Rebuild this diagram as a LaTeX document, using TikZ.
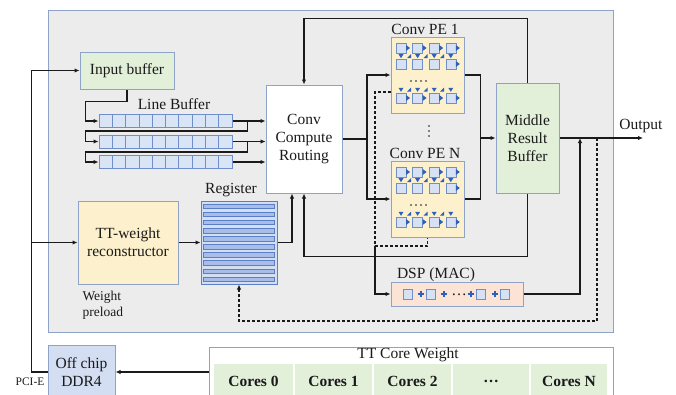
\documentclass[tikz,border=0pt]{standalone}
\usepackage{fontspec}
\setmainfont{Liberation Serif}
\usetikzlibrary{arrows.meta}
\definecolor{bgc}{HTML}{ECECEC}
\definecolor{edge}{HTML}{8FA3C8}
\definecolor{grn}{HTML}{E2EFD9}
\definecolor{ylw}{HTML}{FDF0CC}
\definecolor{lbl}{HTML}{D9E4F5}
\definecolor{lbedge}{HTML}{6F8FCA}
\definecolor{pch}{HTML}{FBE3D6}
\definecolor{regf}{HTML}{D3DEF3}
\definecolor{regb}{HTML}{A9BEE6}
\definecolor{regedge}{HTML}{5B7FC6}
\definecolor{dblue}{HTML}{2F5FB8}
\definecolor{sqf}{HTML}{D6E2F4}
\definecolor{ddrf}{HTML}{D3DEF2}
\definecolor{ln}{HTML}{1A1A1A}
\definecolor{txt}{HTML}{1A1A1A}

\newcommand\pegrid[2]{%
  \begin{scope}[shift={(#1,#2)}]
    \foreach \i in {0,1,2,3}{
      \pgfmathsetmacro\sx{5+16.6*\i}
      \filldraw[sqs] (\sx,6) rectangle ++(10,10);
      \filldraw[sqs] (\sx,22) rectangle ++(10,10);
      \filldraw[sqs] (\sx,56) rectangle ++(10,10);
      \fill[dblue] (\sx+10,8) -- (\sx+14,11) -- (\sx+10,14) -- cycle;
      \fill[dblue] (\sx+2.5,17.2) -- (\sx+7.5,17.2) -- (\sx+5,21.2) -- cycle;
      \fill[dblue] (\sx+2.5,50.8) -- (\sx+7.5,50.8) -- (\sx+5,54.8) -- cycle;
      \fill[dblue] (\sx+10,58) -- (\sx+14,61) -- (\sx+10,64) -- cycle;
    }
    \foreach \i in {0,1,2}{
      \pgfmathsetmacro\sx{5+16.6*\i}
      \fill[dblue] (\sx+15,17) -- (\sx+15,21) -- (\sx+11,21) -- cycle;
      \fill[dblue] (\sx+15,50.5) -- (\sx+15,54.5) -- (\sx+11,54.5) -- cycle;
    }
    \fill[dblue] (5+16.6*3+10,24) -- (5+16.6*3+14,27) -- (5+16.6*3+10,30) -- cycle;
    \foreach \d in {20,25,30,35}{ \fill[txt] (\d,44) circle (0.8); }
  \end{scope}}

\begin{document}
\begin{tikzpicture}[x=1pt,y=-1pt,
  font=\fontsize{15.5}{18}\selectfont, text=txt,
  box/.style={draw=edge, line width=1pt, inner sep=0pt, align=center},
  sqs/.style={draw=lbedge, fill=sqf, line width=0.6pt},
  conn/.style={draw=ln, line width=1.1pt},
  arr/.style={conn, -{Latex[length=5pt,width=4.5pt]}},
  dsh/.style={conn, dash pattern=on 3pt off 2pt},
  plus/.style={draw=dblue, line width=2pt},
  cell/.style={fill=grn, draw=white, line width=1.5pt, minimum height=37pt, inner sep=0pt, font=\fontsize{15.5}{18}\selectfont\bfseries}]
\useasboundingbox (0,0) rectangle (676,394);

% main chip area
\node[box, fill=bgc, minimum width=565pt, minimum height=322pt] (chip) at (330.5,171) {};

% blocks
\node[box, fill=grn, minimum width=94pt, minimum height=37pt] (inbuf) at (127,70.5) {Input buffer};
\node (lbtitle) at (174,104) {Line Buffer};
\foreach \r/\yy in {1/121,2/141.5,3/162}{
  \node[box, draw=lbedge, fill=lbl, minimum width=133pt, minimum height=13pt] (lb\r) at (165.5,\yy) {};
  \foreach \k in {1,...,9}{ \draw[lbedge, line width=0.8pt] (99+13.3*\k,\yy-6.5) -- (99+13.3*\k,\yy+6.5); }
}
\node[box, fill=white, minimum width=76pt, minimum height=108pt] (ccr) at (304,139) {Conv\\Compute\\Routing};

\node[box, fill=ylw, minimum width=73pt, minimum height=76pt] (pe1) at (427.5,75) {};
\node[box, fill=ylw, minimum width=73pt, minimum height=76pt] (pen) at (427.5,199) {};
\pegrid{391}{37}
\pegrid{391}{161}
\node (lpe1) at (425,29) {Conv PE 1};
\node (lpen) at (425,153) {Conv PE N};
\foreach \v in {126,131,136}{ \fill[txt] (429,\v) circle (0.9); }

\node[box, fill=grn, minimum width=63pt, minimum height=110pt] (mrb) at (527.5,138) {Middle\\Result\\Buffer};

\node[box, fill=ylw, minimum width=100pt, minimum height=83pt] (ttw) at (128,242.5) {TT-weight\\reconstructor};
\node[align=left, font=\fontsize{13.5}{16}\selectfont, anchor=west] (wpre) at (79,305) {Weight\\preload};

\node[box, draw=regedge, fill=regf, minimum width=76pt, minimum height=83pt] (reg) at (239,242.5) {};
\foreach \k in {0,...,9}{ \filldraw[draw=regedge, fill=regb, line width=0.6pt] (203.5,204+8.1*\k) rectangle ++(71,4.5); }
\node (lreg) at (231,190) {Register};

\node[box, fill=pch, minimum width=132pt, minimum height=24pt] (dsp) at (457,294) {};
\node (ldsp) at (436,275) {DSP (MAC)};
\foreach \q in {403,426,476,500}{ \filldraw[sqs] (\q,289.5) rectangle ++(9.5,9.5); }
\foreach \p in {420.5,444,470.5,495}{ \draw[plus] (\p-3,294.25) -- (\p+3,294.25) (\p,291.25) -- (\p,297.25); }
\node (dspdots) at (459,295) {\dots};

\node (lout) at (641,126) {Output};

% off chip
\node[box, fill=ddrf, minimum width=67pt, minimum height=54pt] (ddr) at (81.5,372) {};
\node[align=center] (ddrtxt) at (81.5,372) {Off chip\\[-0.5pt]DDR4};
\node[font=\fontsize{11.5}{13}\selectfont] (pcie) at (30,382) {PCI-E};

\node[box, fill=white, minimum width=404pt, minimum height=50pt] (ttcw) at (411,372) {};
\node (lttcw) at (408,355) {TT Core Weight};
\node[cell, minimum width=81pt] (c0) at (253.5,381.5) {Cores 0};
\node[cell, minimum width=79pt] (c1) at (333.5,381.5) {Cores 1};
\node[cell, minimum width=79pt] (c2) at (412.5,381.5) {Cores 2};
\node[cell, minimum width=78pt] (c3) at (491,381.5) {\dots};
\node[cell, minimum width=78pt] (cn) at (569,381.5) {Cores N};

% connectors
\draw[arr] (ttcw.west) -- (ddr.east);
\draw[arr] (ddr.west) -- ++(-16,0) |- (inbuf.west);
\draw[arr] (ddr.west) ++(-16,0) |- (ttw.west);

\draw[arr] (inbuf.south) -- ++(0,12) -| ([xshift=-13pt]lb1.west) -- (lb1.west);
\draw[arr] ([xshift=15pt]lb1.east) -- ++(0,10) -| ([xshift=-13pt]lb2.west) -- (lb2.west);
\draw[arr] ([xshift=15pt]lb2.east) -- ++(0,10.5) -| ([xshift=-13pt]lb3.west) -- (lb3.west);
\draw[arr] (lb1.east) -- (lb1.east -| ccr.west);
\draw[arr, line width=0.8pt] (lb2.east) -- (lb2.east -| ccr.west);
\draw[arr] (lb3.east) -- (lb3.east -| ccr.west);

\draw[arr] (ttw.east) -- (reg.west);
\draw[arr] (reg.east) -| ([xshift=-12pt]ccr.south);
\draw[arr] (mrb.south) -- ++(0,63) -| (ccr.south);
\draw[arr] (mrb.north) -- ++(0,-64) -| (ccr.north);

\coordinate (split) at (367,139);
\draw[conn] (ccr.east) -- (split);
\draw[arr] (split) |- (pe1.west);
\draw[arr] (split) |- (pen.west);

\draw[conn] (pe1.east) -- ++(16,0) coordinate (m1) -- (m1 |- pen.east) -- (pen.east);
\draw[arr] (m1 |- mrb.west) -- (mrb.west);

\coordinate (out) at (643,138);
\draw[arr] (mrb.east) -- (out);
\coordinate (dspup) at (580,138);
\draw[arr] (dsp.east) -| (dspup);

\coordinate (fb) at (597,138);
\draw[dsh, -{Latex[length=5pt,width=4.5pt]}] (fb) -- (597,321) -| (reg.south);

\coordinate (pe1d) at (391,92);
\coordinate (dv) at (375,246);
\draw[dsh] (pe1d) -| (dv) -| (pen.south);
\draw[arr] (dv) |- (dsp.west);
\end{tikzpicture}
\end{document}
